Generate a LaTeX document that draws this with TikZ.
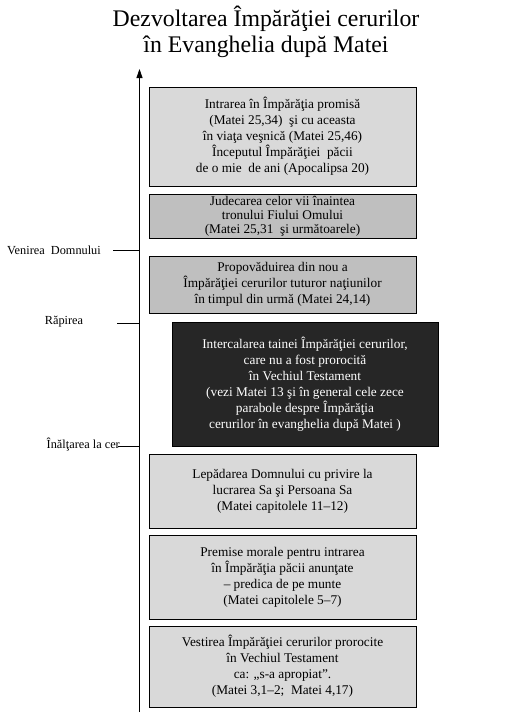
\documentclass[tikz,border=0pt]{standalone}
\usepackage{fontspec}
\setmainfont{Liberation Serif}
\usepackage{xcolor}
\usetikzlibrary{arrows.meta, positioning, backgrounds}
\definecolor{epochlight}{HTML}{D9D9D9}
\definecolor{epochmid}{HTML}{BFBFBF}
\definecolor{epochdark}{HTML}{262626}
\tikzset{
  epoch/.style={draw=black, thick, align=center, inner sep=1pt,
                font=\fontsize{13.3}{16}\selectfont, text=black,
                minimum width=267pt},
  lightepoch/.style={epoch, fill=epochlight},
  midepoch/.style={epoch, fill=epochmid},
  darkepoch/.style={epoch, fill=epochdark, text=white, minimum width=266pt},
  eventlbl/.style={font=\fontsize{12.3}{15}\selectfont, inner sep=1pt},
  tick/.style={draw=black, thick},
  timeaxis/.style={draw=black, thick, -{Triangle[length=9pt, width=6pt]}},
}
\begin{document}
\begin{tikzpicture}[x=1pt, y=-1pt]
  \useasboundingbox[fill=white] (0,0) rectangle (510,718);
  % title
  \node[align=center, font=\fontsize{23.8}{25.5}\selectfont] (title) at (266,32)
    {Dezvoltarea Împărăţiei cerurilor\\în Evanghelia după Matei};
  % time axis
  \coordinate (axbot) at (139.5,712);
  \coordinate (axtop) at (139.5,69);
  \draw[timeaxis] (axbot) -- (axtop);
  % epochs, bottom to top
  \node[lightepoch, minimum height=81pt] (vestire) at (282.5,666.5)
    {Vestirea Împărăţiei cerurilor prorocite\\în Vechiul Testament\\ca: „s-a apropiat”.\\(Matei 3,1--2;\ \ Matei 4,17)};
  \node[lightepoch, minimum height=84pt] (premise) at (282.5,577)
    {Premise morale pentru intrarea\\în Împărăţia păcii anunţate\\-- predica de pe munte\\(Matei capitolele 5--7)};
  \node[lightepoch, minimum height=74pt] (lepadare) at (282.5,491)
    {Lepădarea Domnului cu privire la\\lucrarea Sa şi Persoana Sa\\(Matei capitolele 11--12)};
  \node[darkepoch, minimum height=124pt] (taina) at (305,384)
    {Intercalarea tainei Împărăţiei cerurilor,\\care nu a fost prorocită\\în Vechiul Testament\\(vezi Matei 13 şi în general cele zece\\parabole despre Împărăţia\\cerurilor în evanghelia după Matei )};
  \node[midepoch, minimum height=57pt] (propovad) at (282.5,284.5)
    {Propovăduirea din nou a\\Împărăţiei cerurilor tuturor naţiunilor\\în timpul din urmă (Matei 24,14)};
  \node[midepoch, minimum height=44pt, inner sep=0pt,
        font=\fontsize{13.3}{13.8}\selectfont] (judecata) at (282.5,216)
    {Judecarea celor vii înaintea\\tronului Fiului Omului\\(Matei 25,31 \ şi următoarele)};
  \node[lightepoch, minimum height=99pt] (intrare) at (282.5,136.5)
    {Intrarea în Împărăţia promisă\\(Matei 25,34) \ şi cu aceasta\\în viaţa veşnică (Matei 25,46)\\Începutul Împărăţiei \ păcii\\de o mie \ de ani (Apocalipsa 20)};
  % events on the axis
  \node[eventlbl, anchor=east] (venire) at (102,250) {Venirea \ Domnului};
  \coordinate (veniretk) at (113,250);
  \coordinate (venireax) at (axbot |- veniretk);
  \draw[tick] (veniretk) -- (venireax);
  \node[eventlbl] (rapire) at (64,322) {Răpirea};
  \coordinate (rapiretk) at (117,323);
  \coordinate (rapireax) at (axbot |- rapiretk);
  \draw[tick] (rapiretk) -- (rapireax);
  \node[eventlbl, anchor=east] (inaltare) at (121,445) {Înălţarea la cer};
  \coordinate (inaltaretk) at (118,446);
  \coordinate (inaltareax) at (axbot |- inaltaretk);
  \draw[tick] (inaltaretk) -- (inaltareax);
\end{tikzpicture}
\end{document}
